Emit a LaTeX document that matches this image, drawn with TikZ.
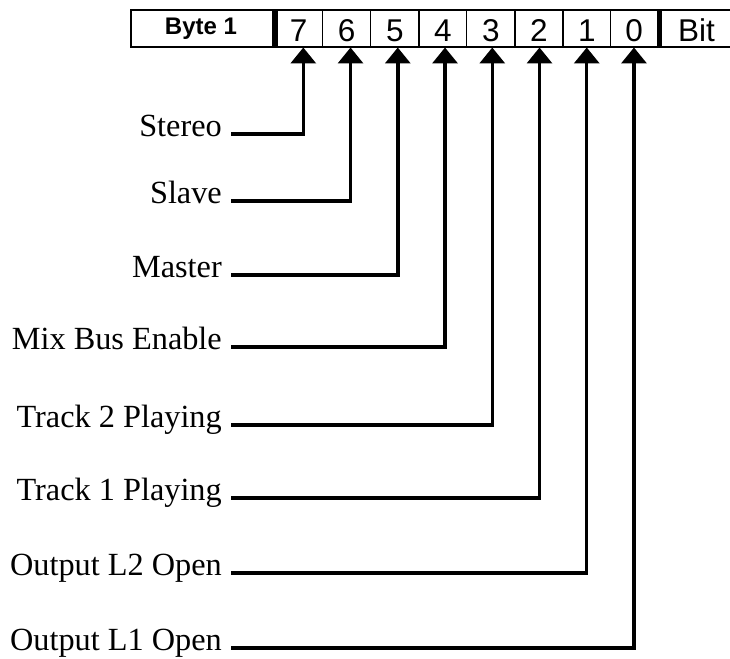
\documentclass[tikz,border=0pt]{standalone}
\usepackage{fontspec}
\setmainfont{Liberation Serif}
\newfontfamily\hdr{Liberation Sans}
\usetikzlibrary{arrows.meta}
\begin{document}
\begin{tikzpicture}[x=1pt,y=-1pt,
 conn/.style={line width=3.5pt,-{Triangle[length=16pt,width=25pt]}},
 lab/.style={anchor=base east,inner sep=0pt,font=\fontsize{32.3}{35}\selectfont},
 dig/.style={anchor=base,inner sep=0pt,font=\hdr\fontsize{31.5}{34}\selectfont},
 bytelab/.style={anchor=base,inner sep=0pt,font=\hdr\bfseries\fontsize{24}{26}\selectfont},
 frame/.style={line width=1.5pt},
 bar/.style={fill=black}]
\useasboundingbox (0,0) rectangle (730,658);
\begin{scope}
\clip (0,0) rectangle (730,658);
\draw[frame] (740,10) -- (131,10) -- (131,47) -- (740,47);
\fill[bar] (272,10) rectangle (278,47);
\fill[bar] (657,10) rectangle (662,47);
\foreach \x in {322.7,370.7,419,466.7,515,563,610.7}
  \draw[frame] (\x,10) -- (\x,47);
\node[bytelab] (byte) at (201,35) {Byte 1};
\node[dig] (bit) at (696.5,41.5) {Bit};
\end{scope}
\foreach \b/\cx in {7/298.7,6/346.7,5/394.8,4/442.8,3/490.8,2/539,1/586.8,0/634}
  \node[dig] (d\b) at (\cx,41.5) {\b};
\foreach \b/\t/\y in {7/Stereo/134,6/Slave/201,5/Master/275,4/Mix Bus Enable/347,3/Track 2 Playing/425,2/Track 1 Playing/498,1/Output L2 Open/573,0/Output L1 Open/648} {
  \pgfmathsetmacro\ax{303.3+47.24*(7-\b)}
  \node[lab] (l\b) at (222,\y+2) {\t};
  \coordinate (s\b) at (231,\y);
  \coordinate (t\b) at (\ax,47.5);
  \draw[conn] (s\b) -| (t\b);
}
\end{tikzpicture}
\end{document}
